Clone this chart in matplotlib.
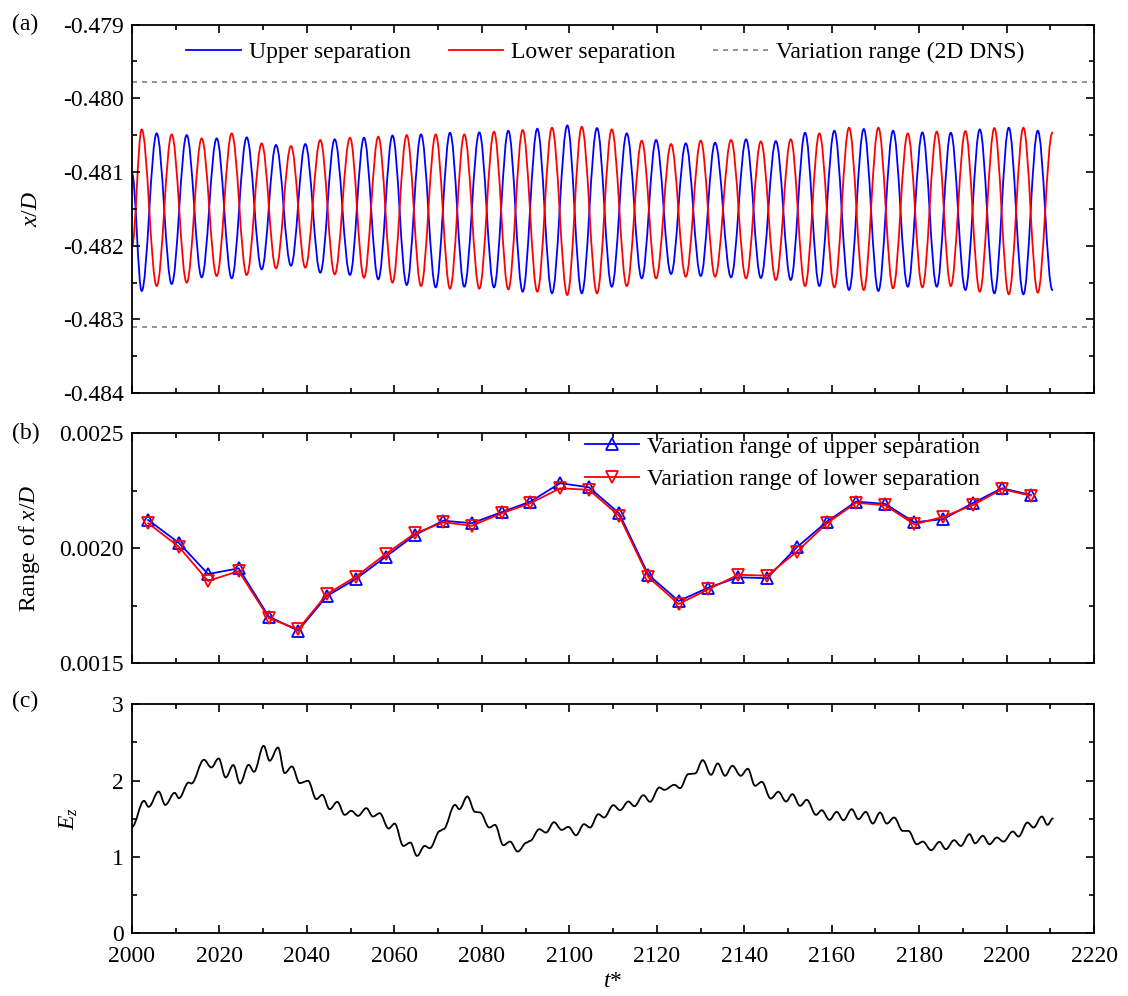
import matplotlib
matplotlib.use("Agg")
import matplotlib.pyplot as plt
from matplotlib.path import Path
from matplotlib.patches import PathPatch
from matplotlib.lines import Line2D
from matplotlib.ticker import MultipleLocator, FormatStrFormatter

plt.rcParams['font.family'] = ['Liberation Serif', 'DejaVu Serif']
plt.rcParams['mathtext.fontset'] = 'custom'
plt.rcParams['mathtext.rm'] = 'Liberation Serif'
plt.rcParams['mathtext.it'] = 'Liberation Serif:italic'
plt.rcParams['axes.unicode_minus'] = False
FS = 17

# ---- (a) separation points: times of successive extrema (start at t*=2000) ----
sep_t = [2000.0,
         2002.22, 2005.65, 2009.08, 2012.51, 2015.94, 2019.37, 2022.80, 2026.23, 2029.66, 2032.93,
         2036.36, 2039.63, 2043.06, 2046.35, 2049.85, 2053.05, 2056.32, 2059.57, 2062.82, 2066.09,
         2069.45, 2072.72, 2075.99, 2079.42, 2082.78, 2086.05, 2089.34, 2092.68, 2096.04, 2099.54,
         2102.84, 2106.33, 2109.70, 2113.13, 2116.56, 2119.83, 2123.26, 2126.62, 2130.05, 2133.32,
         2136.98, 2140.41, 2143.79, 2147.22, 2150.63, 2153.90, 2157.17, 2160.60, 2163.96, 2167.32,
         2170.66, 2174.02, 2177.38, 2180.72, 2184.01, 2187.22, 2190.55, 2193.85, 2197.19, 2200.48,
         2203.82, 2207.11, 2210.45]
upper_x = [-0.481015,
           -0.482614, -0.480476, -0.482520, -0.480499, -0.482429, -0.480544, -0.482443, -0.480530,
           -0.482321, -0.480634, -0.482271, -0.480621, -0.482366, -0.480557, -0.482397, -0.480535,
           -0.482456, -0.480505, -0.482533, -0.480490, -0.482565, -0.480467, -0.482556, -0.480463,
           -0.482565, -0.480440, -0.482624, -0.480413, -0.482646, -0.480368, -0.482646, -0.480404,
           -0.482556, -0.480476, -0.482443, -0.480566, -0.482384, -0.480612, -0.482411, -0.480603,
           -0.482429, -0.480557, -0.482438, -0.480580, -0.482465, -0.480467, -0.482547, -0.480440,
           -0.482601, -0.480417, -0.482614, -0.480440, -0.482556, -0.480463, -0.482556, -0.480467,
           -0.482601, -0.480422, -0.482646, -0.480399, -0.482660, -0.480440, -0.482601]
lower_x = [-0.482009,
           -0.480422, -0.482547, -0.480490, -0.482501, -0.480544, -0.482411, -0.480476, -0.482397,
           -0.480612, -0.482307, -0.480648, -0.482298, -0.480566, -0.482388, -0.480535, -0.482434,
           -0.480521, -0.482501, -0.480499, -0.482547, -0.480490, -0.482583, -0.480490, -0.482583,
           -0.480453, -0.482592, -0.480431, -0.482624, -0.480399, -0.482669, -0.480386, -0.482646,
           -0.480422, -0.482547, -0.480575, -0.482443, -0.480621, -0.482420, -0.480575, -0.482420,
           -0.480566, -0.482443, -0.480585, -0.482465, -0.480557, -0.482547, -0.480476, -0.482565,
           -0.480399, -0.482601, -0.480399, -0.482578, -0.480476, -0.482565, -0.480453, -0.482547,
           -0.480444, -0.482624, -0.480404, -0.482660, -0.480399, -0.482637, -0.480467]
dns_range = [-0.47978, -0.48310]

# ---- (b) variation range per cycle ----
cyc_t = [2003.7, 2010.7, 2017.4, 2024.4, 2031.3, 2038.0, 2044.6, 2051.2, 2058.0, 2064.7, 2071.2,
         2077.7, 2084.5, 2091.1, 2097.9, 2104.5, 2111.4, 2118.1, 2125.0, 2131.8, 2138.6, 2145.2,
         2152.0, 2158.9, 2165.6, 2172.2, 2178.9, 2185.5, 2192.2, 2198.9, 2205.5]
upper_rng = [0.002123, 0.002024, 0.001888, 0.001913, 0.001703, 0.001642, 0.001793, 0.001867,
             0.001963, 0.002058, 0.002120, 0.002109, 0.002157, 0.002203, 0.002283, 0.002265,
             0.002152, 0.001884, 0.001771, 0.001829, 0.001874, 0.001870, 0.002004, 0.002116,
             0.002203, 0.002193, 0.002113, 0.002127, 0.002196, 0.002261, 0.002232]
lower_rng = [0.002109, 0.002007, 0.001858, 0.001901, 0.001696, 0.001648, 0.001801, 0.001877,
             0.001975, 0.002065, 0.002113, 0.002098, 0.002152, 0.002196, 0.002261, 0.002254,
             0.002141, 0.001874, 0.001758, 0.001822, 0.001885, 0.001881, 0.001985, 0.002109,
             0.002198, 0.002187, 0.002104, 0.002137, 0.002187, 0.002257, 0.002229]

# ---- (c) E_z: successive turning points ----
ez_t = [2000.0, 2002.75, 2003.81, 2006.1, 2007.62, 2009.76, 2010.75, 2012.96, 2013.57, 2016.46,
        2018.14, 2019.82, 2021.42, 2023.17, 2024.7, 2026.68, 2027.9, 2030.11, 2031.48, 2033.39,
        2034.91, 2036.59, 2038.34, 2040.25, 2042.15, 2043.52, 2045.2, 2046.95, 2048.63, 2050.15,
        2051.68, 2053.58, 2055.11, 2056.63, 2058.69, 2060.06, 2062.05, 2063.65, 2065.17, 2066.93,
        2068.1,
        2070.43, 2071.2, 2073.86, 2074.85, 2076.68, 2078.44, 2079.58, 2081.71, 2083.01, 2084.91,
        2086.44, 2088.19, 2090.25, 2091.01, 2093.14, 2094.67, 2096.5, 2098.25, 2099.78, 2101.53,
        2103.36, 2104.73, 2106.64, 2107.93, 2110.07, 2111.59, 2113.5, 2114.87, 2116.93, 2118.45,
        2120.59, 2121.73, 2124.02, 2125.31, 2127.22, 2128.74, 2130.5, 2132.4, 2133.93, 2135.6,
        2137.28, 2139.19, 2140.8,
        2142.47, 2144.0, 2146.05, 2147.8, 2149.55, 2151.0, 2152.76, 2154.28, 2156.42, 2157.71,
        2159.47, 2161.14, 2162.67, 2164.57, 2166.1, 2167.78, 2169.38, 2171.05, 2172.58, 2174.26,
        2176.24, 2177.54, 2179.45, 2180.82, 2182.72, 2184.63, 2186.08, 2187.99, 2189.51, 2191.49,
        2192.79, 2194.54, 2196.07, 2197.75, 2199.27, 2201.4, 2202.7, 2204.76, 2206.13, 2208.04,
        2209.33, 2210.55]
ez_v = [1.394, 1.735, 1.656, 1.857, 1.682, 1.840, 1.770, 1.975, 1.962, 2.273,
        2.172, 2.290, 2.041, 2.203, 1.962, 2.207, 2.115, 2.456, 2.260, 2.434,
        2.098, 2.185, 1.967, 1.997, 1.757, 1.814, 1.625, 1.722, 1.551, 1.604,
        1.538, 1.639, 1.529, 1.573, 1.372, 1.437, 1.144, 1.188, 1.013, 1.144,
        1.114,
        1.341, 1.363, 1.682, 1.625, 1.792, 1.590, 1.582, 1.385, 1.420, 1.153,
        1.201, 1.070, 1.188, 1.210, 1.363, 1.319, 1.455, 1.354, 1.394, 1.284,
        1.429, 1.385, 1.560, 1.516, 1.678, 1.612, 1.726, 1.665, 1.809, 1.722,
        1.910, 1.879, 1.945, 1.901, 2.085, 2.093, 2.268, 2.076, 2.225, 2.063,
        2.194, 2.063, 2.155,
        1.932, 1.984, 1.765, 1.853, 1.726, 1.822, 1.669, 1.748, 1.551, 1.612,
        1.486, 1.590, 1.481, 1.625, 1.494, 1.590, 1.437, 1.582, 1.437, 1.516,
        1.341, 1.341, 1.166, 1.201, 1.088, 1.197, 1.101, 1.219, 1.144, 1.298,
        1.179, 1.276, 1.166, 1.254, 1.201, 1.333, 1.267, 1.451, 1.385, 1.529,
        1.420, 1.503]

assert len(sep_t) == len(upper_x) == len(lower_x)
assert len(cyc_t) == len(upper_rng) == len(lower_rng)
assert len(ez_t) == len(ez_v)


def smooth_curve(ax, t, v, color, lw=1.3, k=0.3634):
    # cubic bezier between turning points, flat tangent at each one
    verts = [(t[0], v[0])]
    codes = [Path.MOVETO]
    for i in range(1, len(t)):
        dt = t[i] - t[i - 1]
        verts += [(t[i - 1] + k * dt, v[i - 1]), (t[i] - k * dt, v[i]), (t[i], v[i])]
        codes += [Path.CURVE4] * 3
    ax.add_patch(PathPatch(Path(verts, codes), facecolor='none', edgecolor=color,
                           lw=lw, capstyle='round', joinstyle='round'))


def style_axes(ax, labels=False):
    ax.set_xlim(2000, 2220)
    ax.xaxis.set_major_locator(MultipleLocator(20))
    ax.xaxis.set_minor_locator(MultipleLocator(10))
    ax.tick_params(which='both', direction='in', top=True, right=True, labelsize=FS,
                   width=1.2)
    ax.tick_params(which='major', length=6)
    ax.tick_params(which='minor', length=3.5)
    ax.tick_params(axis='y', pad=6)
    ax.tick_params(axis='x', pad=9, labelbottom=labels)
    for s in ax.spines.values():
        s.set_linewidth(1.3)


fig = plt.figure(figsize=(11.28, 9.96), dpi=100)
ax_a = fig.add_axes([0.117, 0.6052, 0.853, 0.3702])
ax_b = fig.add_axes([0.117, 0.3340, 0.853, 0.2310])
ax_c = fig.add_axes([0.117, 0.0630, 0.853, 0.2299])

# (a)
smooth_curve(ax_a, sep_t, upper_x, '#0000ff')
smooth_curve(ax_a, sep_t, lower_x, '#ff0000')
for y in dns_range:
    ax_a.axhline(y, color='#808080', lw=1.2, ls=(0, (3, 3)))
ax_a.set_ylim(-0.484, -0.479)
ax_a.yaxis.set_major_locator(MultipleLocator(0.001))
ax_a.yaxis.set_minor_locator(MultipleLocator(0.0005))
ax_a.yaxis.set_major_formatter(FormatStrFormatter('%.3f'))
style_axes(ax_a)
ax_a.set_ylabel('$x$/$D$', fontsize=FS)
ax_a.yaxis.set_label_coords(-0.094, 0.5)
handles_a = [Line2D([], [], color='#0000ff', lw=1.3),
             Line2D([], [], color='#ff0000', lw=1.3),
             Line2D([], [], color='#808080', lw=1.2, ls=(0, (3, 3)))]
ax_a.legend(handles_a, ['Upper separation', 'Lower separation', 'Variation range (2D DNS)'],
            loc='center', bbox_to_anchor=(0.492, 0.925), ncol=3, frameon=False,
            fontsize=FS, handlelength=2.3, handletextpad=0.35, columnspacing=1.6)

# (b)
ax_b.plot(cyc_t, upper_rng, color='#0000ff', lw=1.3, marker='^', ms=8.5,
          mfc='none', mec='#0000ff', mew=1.3, label='Variation range of upper separation')
ax_b.plot(cyc_t, lower_rng, color='#ff0000', lw=1.3, marker='v', ms=8.5,
          mfc='none', mec='#ff0000', mew=1.3, label='Variation range of lower separation')
ax_b.set_ylim(0.0015, 0.0025)
ax_b.yaxis.set_major_locator(MultipleLocator(0.0005))
ax_b.yaxis.set_minor_locator(MultipleLocator(0.00025))
ax_b.yaxis.set_major_formatter(FormatStrFormatter('%.4f'))
style_axes(ax_b)
ax_b.set_ylabel('Range of $x$/$D$', fontsize=FS)
ax_b.yaxis.set_label_coords(-0.094, 0.5)
ax_b.legend(loc='center left', bbox_to_anchor=(0.471, 0.871), frameon=False, fontsize=FS,
            handlelength=2.3, handletextpad=0.3, labelspacing=0.45, borderpad=0,
            borderaxespad=0, numpoints=1)

# (c)
smooth_curve(ax_c, ez_t, ez_v, 'black')
ax_c.set_ylim(0, 3)
ax_c.yaxis.set_major_locator(MultipleLocator(1))
ax_c.yaxis.set_minor_locator(MultipleLocator(0.5))
style_axes(ax_c, labels=True)
ax_c.set_ylabel('$E_z$', fontsize=FS)
ax_c.yaxis.set_label_coords(-0.054, 0.5)
ax_c.set_xlabel('$t$*', fontsize=FS, labelpad=3)

fig.text(0.011, 0.975, '(a)', fontsize=FS, va='center')
fig.text(0.011, 0.565, '(b)', fontsize=FS, va='center')
fig.text(0.011, 0.296, '(c)', fontsize=FS, va='center')

fig.savefig('out.png', dpi=100, facecolor='white')
